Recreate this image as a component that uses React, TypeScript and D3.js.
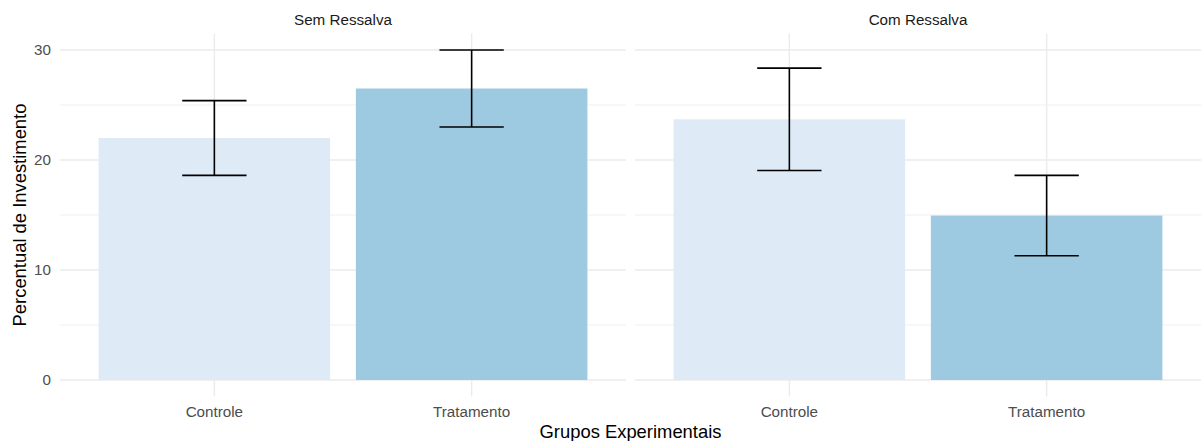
import React from "react";
import * as d3 from "d3";

const panels = ["Sem Ressalva", "Com Ressalva"];
const groups = ["Controle", "Tratamento"];
const semMeans = [22.0, 26.5];
const semErrors = [3.4, 3.5];
const comMeans = [23.7, 14.95];
const comErrors = [4.65, 3.65];
const yTicks = [0, 10, 20, 30];
const yMinor = [5, 15, 25];
const colors = ["#DEEBF7", "#9ECAE1"];

const W = 1201;
const H = 441;
const panelX = [[60, 626], [635, 1201]];
const top = 33.5;
const bottom = 396.5;

export default function App() {
  const data = [
    { panel: panels[0], means: semMeans, errs: semErrors },
    { panel: panels[1], means: comMeans, errs: comErrors },
  ];
  const maxV = d3.max(data.flatMap((d) => d.means.map((m, i) => m + d.errs[i]))) as number;
  const hi = Math.max(30, maxV);
  const pad = hi * 0.05;
  const y = d3.scaleLinear().domain([-pad, hi + pad]).range([bottom, top]);
  const font = "'Liberation Sans', Arial, sans-serif";

  return (
    <svg width={W} height={H} style={{ position: "absolute", left: 0, top: 0 }} fontFamily={font}>
      <rect width={W} height={H} fill="#fff" />
      {data.map((d, pi) => {
        const [x0, x1] = panelX[pi];
        const x = d3.scalePoint<string>().domain(groups).range([x0, x1]).padding(0.6);
        const step = x.step();
        const bw = step * 0.9;
        const ew = step * 0.25;
        return (
          <g key={d.panel}>
            {yMinor.map((t) => (
              <line key={"mi" + t} x1={x0} x2={x1} y1={y(t)} y2={y(t)} stroke="#EBEBEB" strokeWidth={0.8} />
            ))}
            {yTicks.map((t) => (
              <line key={"ma" + t} x1={x0} x2={x1} y1={y(t)} y2={y(t)} stroke="#EBEBEB" strokeWidth={1.4} />
            ))}
            {groups.map((g) => (
              <line key={"v" + g} x1={x(g)} x2={x(g)} y1={top} y2={bottom} stroke="#EBEBEB" strokeWidth={1.4} />
            ))}
            {groups.map((g, i) => (
              <rect
                key={"b" + g}
                x={(x(g) as number) - bw / 2}
                width={bw}
                y={y(d.means[i])}
                height={y(0) - y(d.means[i])}
                fill={colors[i]}
              />
            ))}
            {groups.map((g, i) => {
              const cx = x(g) as number;
              const yt = y(d.means[i] + d.errs[i]);
              const yb = y(d.means[i] - d.errs[i]);
              return (
                <g key={"e" + g} stroke="#000" strokeWidth={1.6}>
                  <line x1={cx} x2={cx} y1={yt} y2={yb} />
                  <line x1={cx - ew / 2} x2={cx + ew / 2} y1={yt} y2={yt} />
                  <line x1={cx - ew / 2} x2={cx + ew / 2} y1={yb} y2={yb} />
                </g>
              );
            })}
            <text x={(x0 + x1) / 2} y={25} textAnchor="middle" fontSize={15.2} fill="#1A1A1A">
              {d.panel}
            </text>
            {groups.map((g) => (
              <text key={"xl" + g} x={x(g)} y={417} textAnchor="middle" fontSize={15.2} fill="#4D4D4D">
                {g}
              </text>
            ))}
          </g>
        );
      })}
      {yTicks.map((t) => (
        <text key={"yl" + t} x={51} y={y(t) + 5} textAnchor="end" fontSize={15.2} fill="#4D4D4D">
          {t}
        </text>
      ))}
      <text x={(60 + 1201) / 2} y={437.5} textAnchor="middle" fontSize={18.4} fill="#000">
        Grupos Experimentais
      </text>
      <text
        transform={`translate(26, ${(top + bottom) / 2}) rotate(-90)`}
        textAnchor="middle"
        fontSize={18.4}
        fill="#000"
      >
        Percentual de Investimento
      </text>
    </svg>
  );
}
